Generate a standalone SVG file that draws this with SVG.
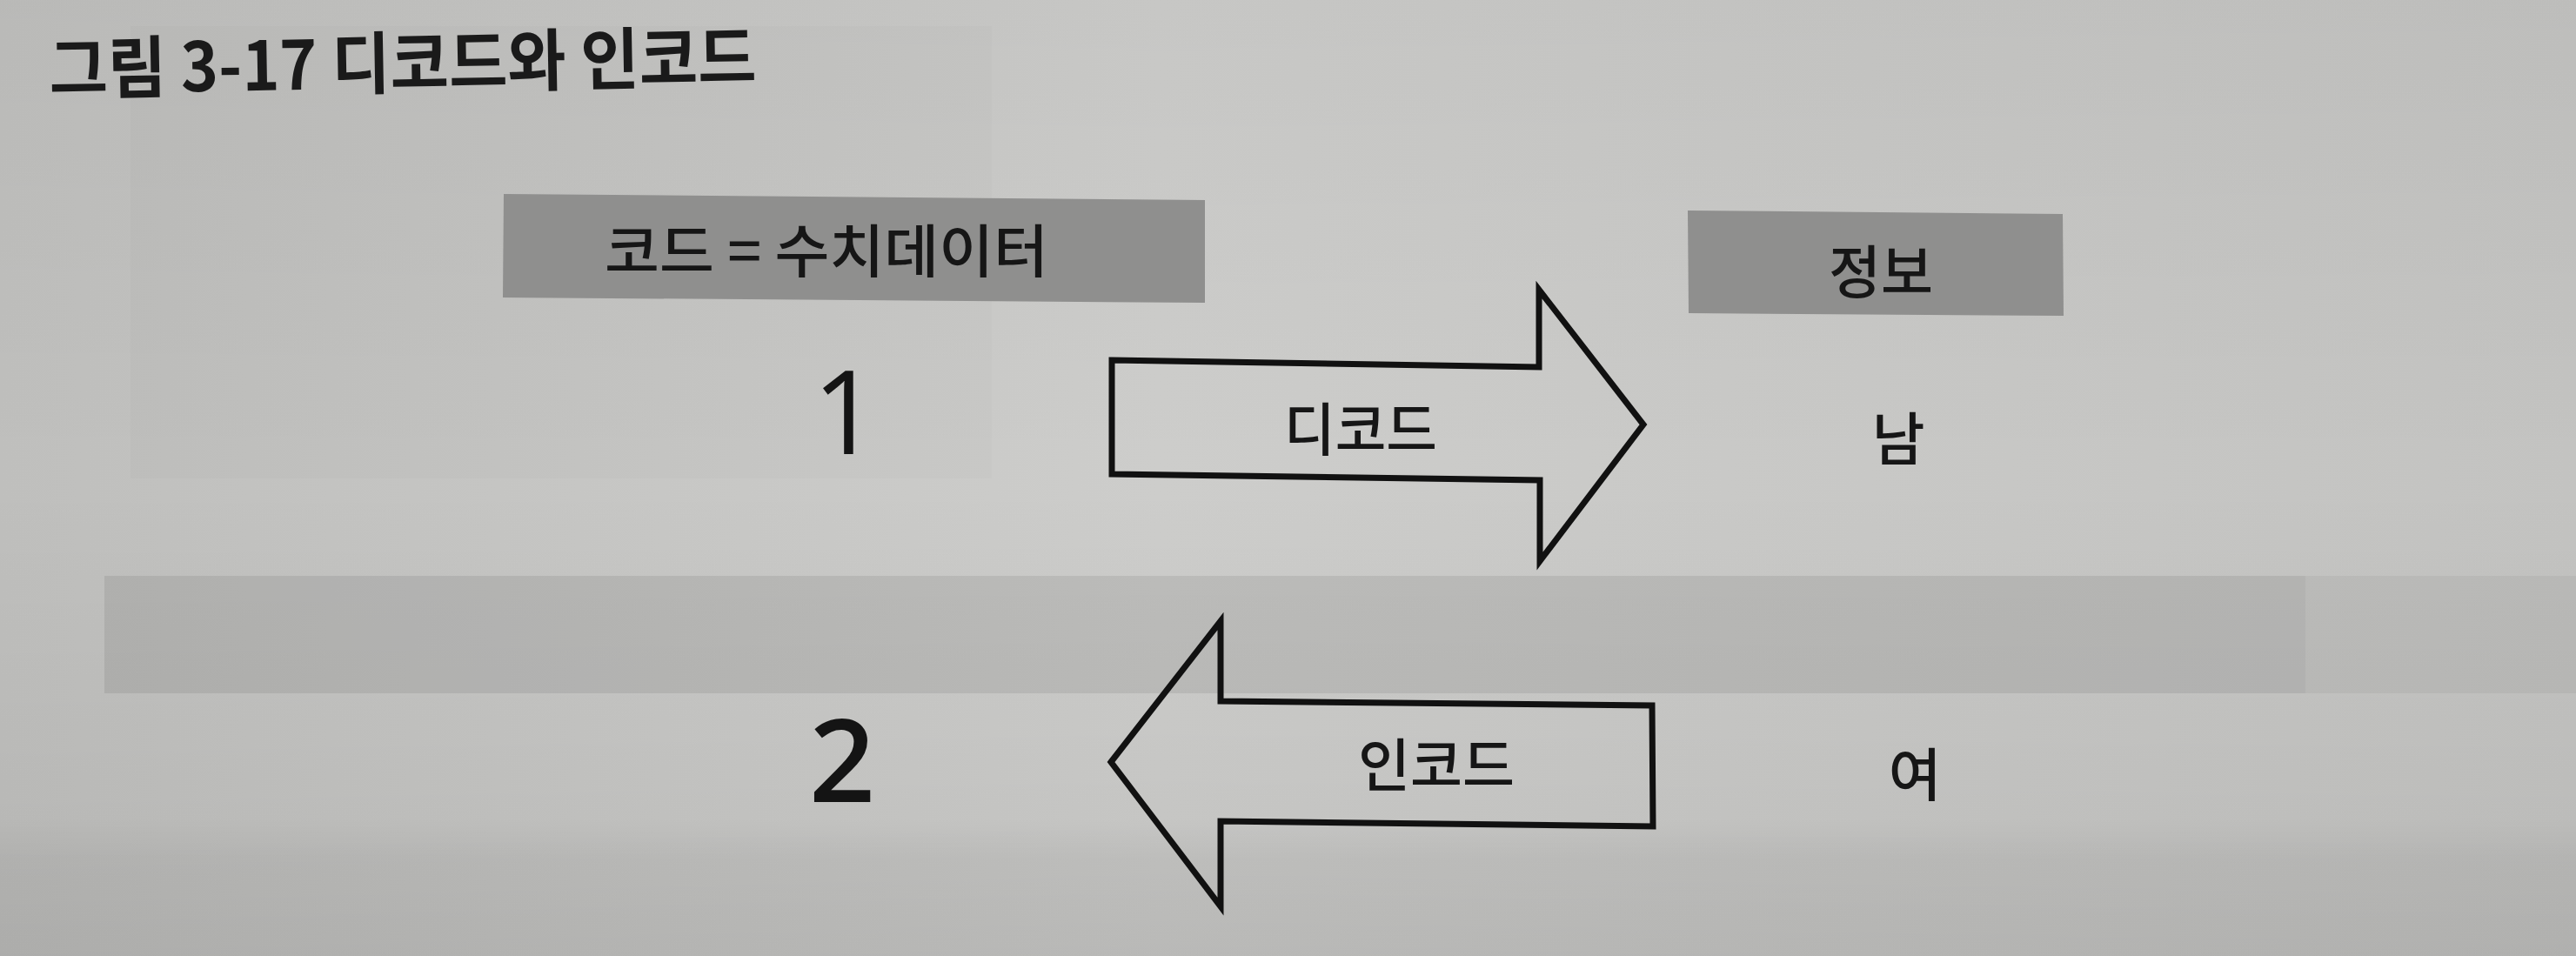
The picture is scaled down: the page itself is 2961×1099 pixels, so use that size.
<svg xmlns="http://www.w3.org/2000/svg" width="2961" height="1099" viewBox="0 0 2961 1099">
<defs>
<linearGradient id="paper" x1="0" y1="0" x2="1" y2="0">
<stop offset="0" stop-color="#bfbfbd"/>
<stop offset="0.45" stop-color="#cdcdcb"/>
<stop offset="1" stop-color="#c3c3c1"/>
</linearGradient>
<linearGradient id="vshade" x1="0" y1="0" x2="0" y2="1">
<stop offset="0" stop-color="#000" stop-opacity="0.03"/>
<stop offset="0.5" stop-color="#000" stop-opacity="0"/>
<stop offset="1" stop-color="#000" stop-opacity="0.05"/>
</linearGradient>
<linearGradient id="bottomfade" x1="0" y1="0" x2="0" y2="1">
<stop offset="0" stop-color="#000" stop-opacity="0"/>
<stop offset="0.3" stop-color="#000" stop-opacity="0.04"/>
<stop offset="1" stop-color="#000" stop-opacity="0.05"/>
</linearGradient>
<style>
.box{fill:#8f8f8e;}
.lbl{font-family:"Noto Sans CJK KR","Noto Sans",sans-serif;font-size:66px;font-weight:500;fill:#161616;text-anchor:middle;dominant-baseline:central;}
.num{font-family:"Open Sans","Noto Sans",sans-serif;font-size:133px;fill:#141414;text-anchor:middle;}
.arrow{fill:none;stroke:#111;stroke-width:7;stroke-linejoin:miter;}
.title{font-family:"Noto Sans CJK KR","Noto Sans",sans-serif;font-size:78px;font-weight:700;fill:#1a1a1a;}
</style>
</defs>
<g id="background">
<rect x="0" y="0" width="2961" height="1099" fill="url(#paper)"/>
<rect x="0" y="0" width="2961" height="1099" fill="url(#vshade)"/>
<rect x="150" y="30" width="990" height="520" fill="#000" opacity="0.012"/>
<rect x="120" y="662" width="2530" height="135" fill="#000" opacity="0.08"/>
<rect x="2650" y="662" width="311" height="135" fill="#000" opacity="0.045"/>
<rect x="0" y="940" width="2961" height="159" fill="url(#bottomfade)"/>
</g>
<g id="title">
<text class="title" x="57" y="108" textLength="813" lengthAdjust="spacingAndGlyphs" transform="rotate(-1 57 108)">그림 3-17 디코드와 인코드</text>
</g>
<g id="node-code">
<polygon class="box" points="579,223 1385,230 1385,348 578,342"/>
<text class="lbl" x="950" y="284" font-size="70" textLength="510" lengthAdjust="spacingAndGlyphs">코드 = 수치데이터</text>
</g>
<g id="node-info">
<polygon class="box" points="1940,242 2371,246 2372,363 1941,360"/>
<text class="lbl" x="2162" y="308" textLength="120" lengthAdjust="spacingAndGlyphs">정보</text>
</g>
<g id="node-1">
<text class="num" x="972" y="522">1</text>
</g>
<g id="node-2">
<text class="num" x="968" y="922" font-weight="600">2</text>
</g>
<g id="node-nam">
<text class="lbl" x="2182" y="500" font-size="64">남</text>
</g>
<g id="node-yeo">
<text class="lbl" x="2201" y="886" font-size="64">여</text>
</g>
<g id="connectors">
<g id="arrow-decode">
<polygon class="arrow" points="1278,414 1769,422 1769,333 1889,488 1770,645 1770,552 1278,545"/>
<text class="lbl" x="1564" y="489" textLength="176" lengthAdjust="spacingAndGlyphs">디코드</text>
</g>
<g id="arrow-encode">
<polygon class="arrow" points="1277,876 1403,714 1403,806 1899,811 1900,950 1403,944 1403,1042"/>
<text class="lbl" x="1651" y="875" textLength="180" lengthAdjust="spacingAndGlyphs">인코드</text>
</g>
</g>
</svg>
